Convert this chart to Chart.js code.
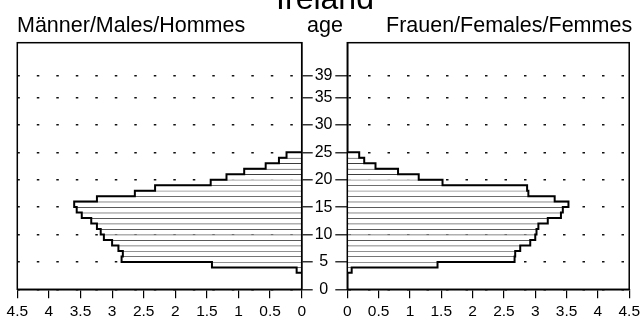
<!DOCTYPE html>
<html>
<head>
<meta charset="utf-8">
<script src="https://cdn.jsdelivr.net/npm/chart.js@4/dist/chart.umd.min.js"></script>
<style>
  html, body { margin: 0; padding: 0; background: #fff; }
  #wrap { position: relative; width: 644px; height: 327px; overflow: hidden;
          font-family: "Liberation Sans", Arial, Helvetica, sans-serif; color: #000; }
  #wrap canvas { position: absolute; left: 0; top: 0; }
  .lbl { position: absolute; white-space: nowrap; line-height: 1; }
</style>
</head>
<body>
<div id="wrap">
  <canvas id="men" width="644" height="327"></canvas>
  <canvas id="women" width="644" height="327"></canvas>
  <div class="lbl" style="font-size:32px; left:325px; top:-18px; transform:translateX(-50%);">Ireland</div>
  <div class="lbl" style="font-size:21.5px; left:17px; top:15px;">Männer/Males/Hommes</div>
  <div class="lbl" style="font-size:21.5px; left:325px; top:15px; transform:translateX(-50%);">age</div>
  <div class="lbl" style="font-size:21.5px; left:386px; top:15px;">Frauen/Females/Femmes</div>
</div>
<script>
// Age in completed years (each bar covers one year of age)
const ages = [3, 4, 5, 6, 7, 8, 9, 10, 11, 12, 13, 14, 15, 16, 17, 18, 19, 20, 21, 22, 23, 24];
// Share of population, per cent
const males   = [0.08, 1.42, 2.85, 2.83, 2.90, 3.00, 3.13, 3.18, 3.24, 3.33, 3.48, 3.56, 3.60, 3.24, 2.64, 2.32, 1.44, 1.19, 0.91, 0.57, 0.36, 0.24];
const females = [0.07, 1.44, 2.67, 2.68, 2.76, 2.92, 3.00, 3.02, 3.05, 3.20, 3.41, 3.44, 3.53, 3.31, 2.89, 2.87, 1.52, 1.14, 0.81, 0.45, 0.27, 0.19];
// Axis ticks
const ageTicks = [0, 5, 10, 15, 20, 25, 30, 35, 39];
const ageMax = 45;
const pctMax = 4.5;
const pctStep = 0.5;

Chart.defaults.font.family = '"Liberation Sans", Arial, Helvetica, sans-serif';
Chart.defaults.color = '#000';

// Frame around each plot panel
const framePlugin = {
  id: 'frame',
  afterDraw(chart) {
    const { ctx, chartArea: a } = chart;
    ctx.save();
    ctx.strokeStyle = '#000';
    ctx.lineWidth = 1.5;
    ctx.strokeRect(a.left, a.top, a.right - a.left, a.bottom - a.top);
    ctx.restore();
  }
};

function buildPyramid(canvasId, values, side) {
  const isLeft = side === 'left';
  // one bar per year of age, centred in its one-year band
  const bars = ages.map((a, i) => ({ x: values[i], y: a + 0.5 }));
  // stepped outline following the outer ends of the bars
  const outline = [{ x: 0, y: ages[0] }];
  ages.forEach((a, i) => {
    outline.push({ x: values[i], y: a });
    outline.push({ x: values[i], y: a + 1 });
  });
  outline.push({ x: 0, y: ages[ages.length - 1] + 1 });

  return new Chart(document.getElementById(canvasId), {
    type: 'bar',
    data: {
      datasets: [
        {
          type: 'line',
          data: outline,
          borderColor: '#000',
          borderWidth: 2,
          pointRadius: 0,
          fill: false,
          tension: 0,
          order: 0
        },
        {
          type: 'bar',
          data: bars,
          backgroundColor: '#fff',
          borderColor: '#222',
          borderWidth: { top: 1, bottom: 0, left: 0, right: 0 },
          barPercentage: 1,
          categoryPercentage: 1,
          order: 1
        }
      ]
    },
    options: {
      indexAxis: 'y',
      responsive: false,
      animation: false,
      events: [],
      layout: {
        padding: isLeft
          ? { left: 17.3, top: 42.7, right: 0, bottom: 0 }
          : { left: 0, top: 42.7, right: 12.3, bottom: 0 }
      },
      plugins: { legend: { display: false }, tooltip: { enabled: false }, title: { display: false } },
      scales: {
        x: {
          type: 'linear',
          reverse: isLeft,
          min: 0,
          max: pctMax,
          offset: false,
          ticks: {
            stepSize: pctStep,
            autoSkip: false,
            maxRotation: 0,
            padding: 4,
            font: { size: 15.5 },
            color: '#000',
            callback: v => String(v)
          },
          grid: { offset: false, drawOnChartArea: false, drawTicks: true, tickLength: 9, color: '#000', lineWidth: 1.2 },
          border: { display: true, color: '#000', width: 1.5 },
          afterFit(s) { s.height = 327 - 289.3; }
        },
        y: {
          type: 'linear',
          position: isLeft ? 'right' : 'left',
          min: 0,
          max: ageMax,
          offset: false,
          afterBuildTicks(s) { s.ticks = ageTicks.map(v => ({ value: v })); },
          ticks: {
            display: isLeft,
            autoSkip: false,
            crossAlign: 'center',
            padding: 2,
            font: { size: 16 },
            color: '#000',
            callback: v => String(v)
          },
          grid: {
            offset: false,
            color: '#111',
            lineWidth: 1.6,
            tickLength: isLeft ? 11 : 12,
            tickColor: '#000',
            tickWidth: 1.2
          },
          border: { display: true, color: '#000', width: 1.5, dash: [2.5, 17] },
          afterFit(s) { s.width = isLeft ? 644 - 301.7 : 347.3; }
        }
      }
    },
    plugins: [framePlugin]
  });
}

buildPyramid('men', males, 'left');
buildPyramid('women', females, 'right');
</script>
</body>
</html>
